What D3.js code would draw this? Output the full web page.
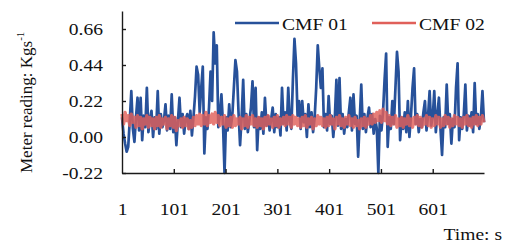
<!doctype html>
<html lang="en">
  <head>
    <meta charset="utf-8">
    <title>Meter reading</title>
    <script src="https://d3js.org/d3.v7.min.js"></script>
    <style>
      body { margin: 0; background: #fff; }
      svg text { font-family: 'Liberation Serif', 'Times New Roman', serif; fill: #111; }
    </style>
  </head>
  <body>
    <div id="holder"></div>
  <script>
      // time stamps (s), one sample every 3 s
      const seconds = [
        1,4,7,10,13,16,19,22,25,28,31,34,37,40,43,46,49,52,55,58,
        61,64,67,70,73,76,79,82,85,88,91,94,97,100,103,106,109,112,115,118,
        121,124,127,130,133,136,139,142,145,148,151,154,157,160,163,166,169,172,175,178,
        181,184,187,190,193,196,199,202,205,208,211,214,217,220,223,226,229,232,235,238,
        241,244,247,250,253,256,259,262,265,268,271,274,277,280,283,286,289,292,295,298,
        301,304,307,310,313,316,319,322,325,328,331,334,337,340,343,346,349,352,355,358,
        361,364,367,370,373,376,379,382,385,388,391,394,397,400,403,406,409,412,415,418,
        421,424,427,430,433,436,439,442,445,448,451,454,457,460,463,466,469,472,475,478,
        481,484,487,490,493,496,499,502,505,508,511,514,517,520,523,526,529,532,535,538,
        541,544,547,550,553,556,559,562,565,568,571,574,577,580,583,586,589,592,595,598,
        601,604,607,610,613,616,619,622,625,628,631,634,637,640,643,646,649,652,655,658,
        661,664,667,670,673,676,679,682,685,688,691,694,697,700
      ]

      const cmf01 = [
        0.12,0.02,-0.04,-0.09,-0.06,0.10,0.28,0.05,-0.03,0.12,
        0.24,0.04,0.24,-0.02,0.13,0.06,0.30,0.03,0.11,0.16,
        0.00,0.12,0.05,0.28,0.02,0.14,0.06,0.10,0.20,0.04,
        0.13,0.05,0.26,0.03,0.12,-0.05,0.10,0.24,0.06,0.14,
        0.02,0.11,0.14,0.05,0.16,0.01,0.12,0.25,0.43,0.38,
        0.15,0.30,0.43,-0.10,0.12,0.05,0.18,0.40,0.22,0.64,
        0.45,0.56,0.06,0.14,0.26,0.08,-0.22,0.12,0.04,0.20,
        0.06,0.13,0.30,0.47,0.40,0.15,-0.05,0.12,0.35,0.05,
        0.14,0.03,0.10,0.18,0.34,0.06,0.30,-0.08,0.12,0.05,
        0.15,0.02,0.24,0.07,0.13,0.04,0.11,0.18,0.03,0.14,
        0.06,0.12,0.01,0.30,0.08,0.15,0.04,0.30,0.10,0.05,
        0.35,0.60,0.45,0.13,0.22,0.05,0.22,0.09,0.14,0.00,
        0.20,0.06,0.15,0.03,0.12,0.30,0.56,0.42,0.30,0.42,
        0.06,0.14,0.04,0.25,0.08,0.13,0.00,0.12,0.35,0.07,
        0.36,0.05,0.14,0.02,0.11,0.06,0.15,0.24,0.04,0.26,
        0.08,0.13,-0.12,0.10,0.32,0.05,0.14,0.03,0.12,0.18,
        0.06,0.14,0.02,0.11,0.05,-0.22,0.13,0.04,0.15,0.35,
        0.51,-0.06,0.12,0.05,0.22,0.08,0.30,0.52,0.40,-0.02,
        0.12,0.05,0.15,0.03,0.22,0.00,0.13,0.30,0.42,0.08,
        0.14,0.03,0.11,0.06,0.15,0.22,0.04,0.13,0.28,0.07,
        0.12,0.28,0.03,0.14,0.24,0.05,-0.11,0.12,0.06,0.32,
        0.08,0.14,-0.04,0.11,0.06,0.30,0.45,-0.02,0.12,0.05,
        0.14,0.32,0.04,0.13,0.07,0.15,0.03,0.33,0.08,0.14,
        0.05,0.12,0.28,0.09
      ]

      const cmf02 = [
        0.14,0.08,0.15,0.10,0.13,0.07,0.14,0.09,0.12,0.06,
        0.13,0.07,0.12,0.05,0.11,0.08,0.13,0.06,0.12,0.07,
        0.11,0.05,0.12,0.07,0.13,0.06,0.11,0.08,0.12,0.05,
        0.11,0.07,0.13,0.06,0.12,0.04,0.10,0.07,0.11,0.06,
        0.12,0.07,0.11,0.05,0.10,0.06,0.12,0.07,0.13,0.08,
        0.14,0.07,0.13,0.08,0.15,0.07,0.13,0.09,0.14,0.08,
        0.15,0.09,0.13,0.07,0.12,0.08,0.13,0.06,0.11,0.07,
        0.12,0.06,0.13,0.07,0.11,0.08,0.12,0.05,0.11,0.07,
        0.13,0.06,0.12,0.08,0.13,0.07,0.11,0.06,0.12,0.07,
        0.11,0.05,0.12,0.07,0.13,0.08,0.11,0.06,0.12,0.07,
        0.13,0.06,0.11,0.08,0.12,0.07,0.13,0.08,0.12,0.06,
        0.13,0.08,0.12,0.07,0.11,0.06,0.12,0.07,0.13,0.06,
        0.11,0.08,0.12,0.05,0.11,0.07,0.13,0.08,0.12,0.07,
        0.11,0.06,0.12,0.07,0.13,0.08,0.11,0.05,0.12,0.08,
        0.13,0.07,0.11,0.06,0.12,0.08,0.13,0.07,0.11,0.06,
        0.12,0.07,0.10,0.05,0.11,0.07,0.12,0.06,0.11,0.08,
        0.13,0.08,0.14,0.09,0.15,0.10,0.16,0.09,0.17,0.10,
        0.15,0.08,0.13,0.07,0.12,0.08,0.13,0.06,0.11,0.07,
        0.12,0.06,0.11,0.08,0.13,0.07,0.11,0.06,0.12,0.08,
        0.13,0.07,0.12,0.06,0.11,0.08,0.13,0.07,0.12,0.06,
        0.11,0.07,0.13,0.08,0.12,0.06,0.11,0.07,0.13,0.08,
        0.12,0.06,0.11,0.07,0.13,0.08,0.12,0.07,0.11,0.06,
        0.12,0.08,0.13,0.07,0.11,0.06,0.12,0.08,0.13,0.07,
        0.12,0.08,0.13,0.09
      ]

      const seriesNames = ['CMF 01', 'CMF 02']
      const colors = ['#27519a', '#e0605a']
      const xTicks = [1, 101, 201, 301, 401, 501, 601]
      const yTicks = [-0.22, 0.00, 0.22, 0.44, 0.66]

      const w = 510, h = 243
      // the source picture is stretched sideways, so text gets widened too
      const stretchK = 1.22
      const serif = "'Liberation Serif', 'Times New Roman', serif"

      const svg = d3.select('#holder')
          .append('svg')
          .attr('width', w)
          .attr('height', h)

      const x = d3.scaleLinear()
          .domain([1, 700])
          .range([122, 484])
      const y = d3.scaleLinear()
          .domain([-0.22, 0.77])
          .range([173, 11])

      const line = d3.line()
          .x(function(d) { return x(d[0]) })
          .y(function(d) { return y(d[1]) })

      function stretch(sel, k) {
          sel.each(function() {
              const len = this.getComputedTextLength()
              this.setAttribute('textLength', len * k)
              this.setAttribute('lengthAdjust', 'spacingAndGlyphs')
          })
      }

      // lines, blue first so the red one sits on top
      const data = [cmf01, cmf02]
      data.forEach(function(vals, i) {
          svg.append('path')
              .datum(seconds.map(function(s, j) { return [s, vals[j]] }))
              .attr('d', line)
              .attr('fill', 'none')
              .attr('stroke', colors[i])
              .attr('stroke-width', i == 0 ? 2.7 : 3.4)
              .attr('stroke-linejoin', 'round')
              .attr('opacity', i == 0 ? 1 : 0.82)
      })

      // axes
      const xAxis = d3.axisBottom(x)
          .tickValues(xTicks)
          .tickFormat(d3.format('d'))
          .tickSizeInner(-4)
          .tickSizeOuter(0)
          .tickPadding(31)
      const yAxis = d3.axisLeft(y)
          .tickValues(yTicks)
          .tickFormat(function(d) { return d.toFixed(2) })
          .tickSizeInner(-4)
          .tickSizeOuter(0)
          .tickPadding(19)

      const gx = svg.append('g')
          .attr('transform', 'translate(0,173)')
          .call(xAxis)
      const gy = svg.append('g')
          .attr('transform', 'translate(122,0)')
          .call(yAxis)

      svg.selectAll('.domain, .tick line')
          .attr('stroke', '#1a1a1a')
          .attr('stroke-width', 1.4)
      svg.selectAll('.tick text')
          .style('font-family', serif)
          .style('font-size', '16px')
      gx.attr('font-family', null)
      gy.attr('font-family', null)
      gx.select('.tick line').remove()
      stretch(gx.selectAll('.tick text'), stretchK)
      stretch(gy.selectAll('.tick text'), stretchK)

      // axis titles
      const yTitle = svg.append('text')
          .attr('transform', 'translate(32,173) rotate(-90)')
          .style('font-family', serif)
          .style('font-size', '17px')
      yTitle.append('tspan').text('Meter reading: Kgs')
      yTitle.append('tspan')
          .text('-1')
          .attr('dy', -8)
          .style('font-size', '11px')

      const xTitle = svg.append('text')
          .attr('x', 502)
          .attr('y', 240)
          .attr('text-anchor', 'end')
          .style('font-family', serif)
          .style('font-size', '16px')
          .text('Time: s')
      stretch(xTitle, stretchK)

      // legend
      const legendX = [235, 372]
      seriesNames.forEach(function(name, i) {
          svg.append('line')
              .attr('x1', legendX[i])
              .attr('x2', legendX[i] + 44)
              .attr('y1', 23)
              .attr('y2', 23)
              .attr('stroke', colors[i])
              .attr('stroke-width', 2.6)
          const t = svg.append('text')
              .attr('x', legendX[i] + 47)
              .attr('y', 30)
              .style('font-family', serif)
              .style('font-size', '17px')
              .text(name)
          stretch(t, 1.15)
      })
  </script>
  </body>
</html>
